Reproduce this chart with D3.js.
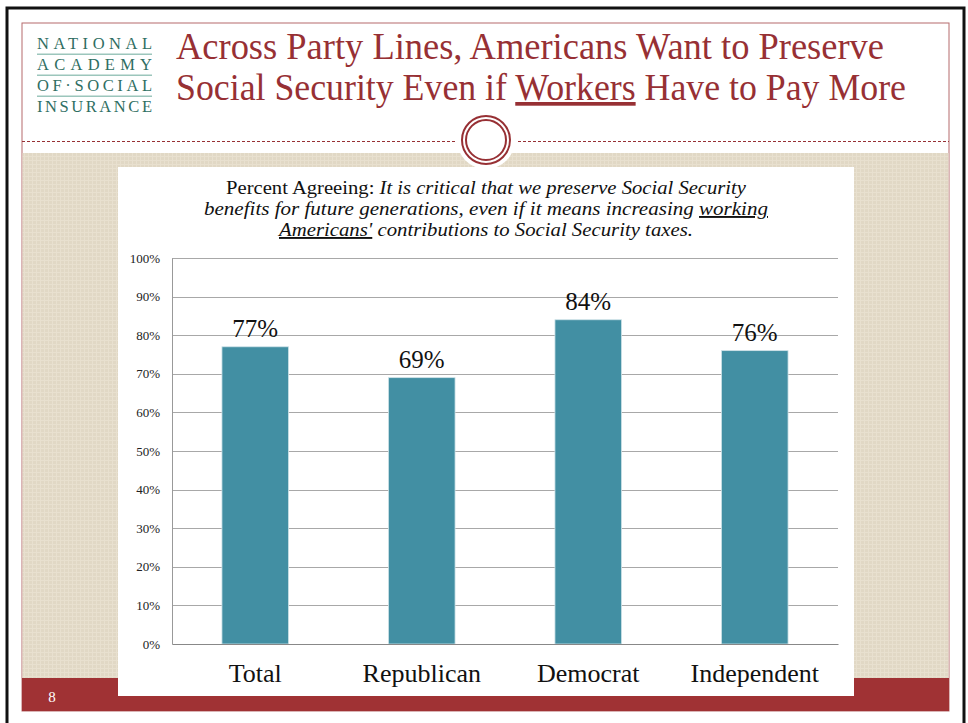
<!DOCTYPE html>
<html><head><meta charset="utf-8">
<script src="https://cdnjs.cloudflare.com/ajax/libs/d3/7.8.5/d3.min.js"></script>
<style>html,body{margin:0;padding:0;background:#fff;}svg{display:block;}</style>
</head><body>
<script>
const categories = ["Total", "Republican", "Democrat", "Independent"];
const values = [77, 69, 84, 76];
const valueLabels = ["77%", "69%", "84%", "76%"];
const yTicks = [0, 10, 20, 30, 40, 50, 60, 70, 80, 90, 100];
const titleLines = ["Across Party Lines, Americans Want to Preserve", "Social Security Even if ", "Workers", " Have to Pay More"];
const logoLines = ["NATIONAL", "ACADEMY", "OF·SOCIAL", "INSURANCE"];

const W = 968, H = 723;
const svg = d3.select("body").append("svg").attr("width", W).attr("height", H);
const defs = svg.append("defs");
const pat = defs.append("pattern").attr("id", "tex").attr("width", 4).attr("height", 4).attr("patternUnits", "userSpaceOnUse");
pat.append("rect").attr("width", 4).attr("height", 4).attr("fill", "#e1d8c5");
pat.append("rect").attr("width", 4).attr("height", 1).attr("fill", "#e8e0cf");
pat.append("rect").attr("width", 1).attr("height", 4).attr("fill", "#e8e0cf");

const red = "#a03234", titleRed = "#973034";

// black outer frame
svg.append("path").attr("d", `M7,${H} V8 H964 V${H}`).attr("fill", "none").attr("stroke", "#111").attr("stroke-width", 3);
// red thin frame
svg.append("rect").attr("x", 22).attr("y", 23).attr("width", 927).attr("height", 688).attr("fill", "#fff").attr("stroke", "#b56b6c").attr("stroke-width", 1);
// textured background
svg.append("rect").attr("x", 22.5).attr("y", 153).attr("width", 926).attr("height", 525).attr("fill", "url(#tex)");
// bottom red bar
svg.append("rect").attr("x", 22).attr("y", 678).attr("width", 927).attr("height", 33).attr("fill", red);
svg.append("text").attr("x", 52).attr("y", 702).attr("fill", "#fff").attr("font-family", "Liberation Serif, serif").attr("font-size", 15).attr("text-anchor", "middle").text("8");

// dashed separator
svg.append("line").attr("x1", 22).attr("x2", 455).attr("y1", 141.5).attr("y2", 141.5).attr("stroke", titleRed).attr("stroke-dasharray", "3,2").attr("stroke-width", 1);
svg.append("line").attr("x1", 518).attr("x2", 949).attr("y1", 141.5).attr("y2", 141.5).attr("stroke", titleRed).attr("stroke-dasharray", "3,2").attr("stroke-width", 1);
// circle ornament
svg.append("circle").attr("cx", 486).attr("cy", 140).attr("r", 29).attr("fill", "#fff");
svg.append("circle").attr("cx", 486).attr("cy", 140).attr("r", 24).attr("fill", "none").attr("stroke", titleRed).attr("stroke-width", 2);
svg.append("circle").attr("cx", 486).attr("cy", 140).attr("r", 20).attr("fill", "none").attr("stroke", titleRed).attr("stroke-width", 2);

// logo
const logo = svg.append("g").attr("font-family", "Liberation Serif, serif").attr("fill", "#2f6e62").attr("font-size", 16.5);
const logoY = [49, 70, 91, 112];
logoLines.forEach((t, i) => {
  logo.append("text").attr("x", 37).attr("y", logoY[i]).attr("textLength", 115).attr("lengthAdjust", "spacing").text(t);
});
[53.5, 74.5, 95.5].forEach(y => logo.append("rect").attr("x", 37).attr("y", y).attr("width", 115).attr("height", 1.5).attr("fill", "#9cc6bc"));

// title
const tg = svg.append("g").attr("font-family", "Liberation Serif, serif").attr("fill", titleRed).attr("font-size", 37);
tg.append("text").attr("x", 176).attr("y", 59).attr("textLength", 708).attr("lengthAdjust", "spacingAndGlyphs").text(titleLines[0]);
const t2 = tg.append("text").attr("x", 176).attr("y", 100).attr("textLength", 730).attr("lengthAdjust", "spacingAndGlyphs");
t2.append("tspan").text(titleLines[1]);
t2.append("tspan").attr("text-decoration", "underline").text(titleLines[2]);
t2.append("tspan").text(titleLines[3]);

// white chart panel
svg.append("rect").attr("x", 118).attr("y", 167).attr("width", 736).attr("height", 529).attr("fill", "#fff");

// subtitle
const sg = svg.append("g").attr("font-family", "Liberation Serif, serif").attr("fill", "#111").attr("font-size", 19).attr("text-anchor", "middle");
const s1 = sg.append("text").attr("x", 486).attr("y", 194).attr("textLength", 520).attr("lengthAdjust", "spacingAndGlyphs");
s1.append("tspan").text("Percent Agreeing: ");
s1.append("tspan").attr("font-style", "italic").text("It is critical that we preserve Social Security");
const s2 = sg.append("text").attr("x", 486).attr("y", 215).attr("font-style", "italic").attr("textLength", 564).attr("lengthAdjust", "spacingAndGlyphs");
s2.append("tspan").text("benefits for future generations, even if it means increasing ");
s2.append("tspan").attr("text-decoration", "underline").text("working");
const s3 = sg.append("text").attr("x", 486).attr("y", 236).attr("font-style", "italic").attr("textLength", 414).attr("lengthAdjust", "spacingAndGlyphs");
s3.append("tspan").attr("text-decoration", "underline").text("Americans'");
s3.append("tspan").text(" contributions to Social Security taxes.");

// chart
const plot = {left: 172, right: 838, top: 258, bottom: 644};
const x = d3.scaleBand().domain(categories).range([plot.left, plot.right]).paddingInner(0.6).paddingOuter(0.3);
const y = d3.scaleLinear().domain([0, 100]).range([plot.bottom, plot.top]);

const g = svg.append("g");
g.selectAll(".grid").data(yTicks.filter(d => d > 0)).join("line")
  .attr("x1", plot.left).attr("x2", plot.right)
  .attr("y1", d => Math.round(y(d)) + 0.5).attr("y2", d => Math.round(y(d)) + 0.5)
  .attr("stroke", "#a8a8a8").attr("stroke-width", 1);

const yAxis = g.append("g").attr("transform", `translate(${plot.left},0)`)
  .call(d3.axisLeft(y).tickValues(yTicks).tickSize(0).tickPadding(12).tickFormat(d => d + "%"));
yAxis.select(".domain").attr("stroke", "#999");
yAxis.selectAll("text").attr("font-family", "Liberation Serif, serif").attr("font-size", 13).attr("fill", "#222");

g.selectAll(".bar").data(values).join("rect")
  .attr("x", (d, i) => x(categories[i])).attr("width", x.bandwidth())
  .attr("y", d => y(d)).attr("height", d => y(0) - y(d))
  .attr("fill", "#428fa3").attr("stroke", "#cfe3e8").attr("stroke-width", 0.8);

const xAxis = g.append("g").attr("transform", `translate(0,${plot.bottom})`)
  .call(d3.axisBottom(x).tickSize(0).tickPadding(20));
xAxis.select(".domain").attr("stroke", "#888");
xAxis.selectAll("text").attr("font-family", "Liberation Serif, serif").attr("font-size", 26).attr("fill", "#111");

g.selectAll(".lbl").data(values).join("text")
  .attr("x", (d, i) => x(categories[i]) + x.bandwidth() / 2).attr("y", d => y(d) - 10)
  .attr("text-anchor", "middle").attr("font-family", "Liberation Serif, serif").attr("font-size", 25).attr("fill", "#111")
  .text((d, i) => valueLabels[i]);
</script>
</body></html>
